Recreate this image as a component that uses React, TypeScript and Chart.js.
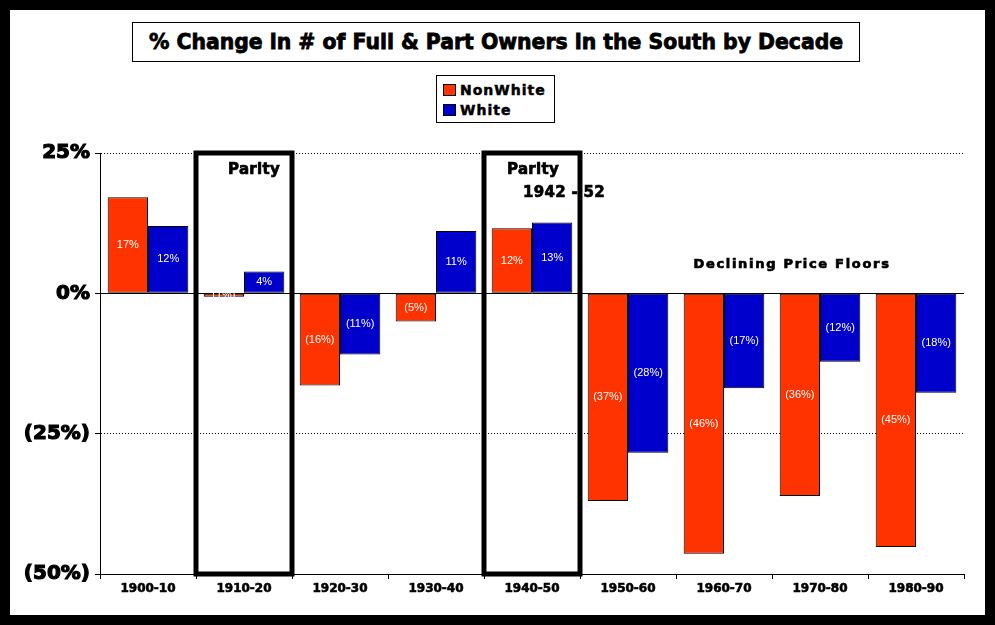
import React, { useEffect, useRef } from "react";
import { Chart, registerables } from "chart.js";

Chart.register(...registerables);

// ---- data ----
const chartTitle = "% Change in # of Full & Part Owners in the South by Decade";
const categories = ["1900-10", "1910-20", "1920-30", "1930-40", "1940-50", "1950-60", "1960-70", "1970-80", "1980-90"];
const seriesNames = ["NonWhite", "White"];
const nonWhite = [17.1, -0.6, -16.4, -5.0, 11.6, -37.0, -46.4, -36.1, -45.2];
const white = [12.0, 3.9, -10.9, 11.1, 12.6, -28.4, -16.9, -12.2, -17.7];
const seriesColors = ["#FF3300", "#0000CC"];
const yMin = -50;
const yMax = 25;
const yStep = 25;
const parityCategories = [1, 4];
const notes = [
  { text: "Parity", cat: 1, dx: 10, y: 21.9 },
  { text: "Parity", cat: 4, dx: 1, y: 21.9 },
  { text: "1942 - 52", cat: 4, dx: 32, y: 17.9 },
  { text: "Declining Price Floors", cat: 7, dx: -28, y: 5.2 },
];

const fmtPct = (v: number) => (v < 0 ? `(${Math.round(-v)}%)` : `${Math.round(v)}%`);

const bgPlugin = {
  id: "bgFrame",
  beforeDraw(chart: any) {
    const ctx = chart.ctx;
    ctx.save();
    ctx.fillStyle = "#000";
    ctx.fillRect(0, 0, chart.width, chart.height);
    ctx.fillStyle = "#fff";
    ctx.fillRect(10, 10, chart.width - 20, chart.height - 20);
    ctx.restore();
  },
};

const barLabelPlugin = {
  id: "barLabels",
  afterDatasetsDraw(chart: any) {
    const ctx = chart.ctx;
    ctx.save();
    ctx.font = "11px 'Liberation Sans', Arial, sans-serif";
    ctx.fillStyle = "#fff";
    ctx.textAlign = "center";
    ctx.textBaseline = "middle";
    chart.data.datasets.forEach((ds: any, di: number) => {
      const meta = chart.getDatasetMeta(di);
      meta.data.forEach((el: any, i: number) => {
        const v = ds.data[i] as number;
        ctx.fillText(fmtPct(v), el.x, (el.y + el.base) / 2);
      });
    });
    ctx.restore();
  },
};

const notesPlugin = {
  id: "notes",
  afterDraw(chart: any) {
    const ctx = chart.ctx;
    const xs = chart.scales.x;
    const ys = chart.scales.y;
    const catW = xs.getPixelForValue(1) - xs.getPixelForValue(0);
    ctx.save();
    ctx.fillStyle = "#000";
    ctx.strokeStyle = "#000";
    ctx.lineWidth = 0.7;
    ctx.textBaseline = "middle";
    ctx.textAlign = "center";
    notes.forEach((n) => {
      if (n.text === "Declining Price Floors") {
        ctx.font = "bold 13px 'DejaVu Sans', sans-serif";
        (ctx as any).letterSpacing = "1.7px";
      } else {
        ctx.font = "bold 15px 'DejaVu Sans', sans-serif";
        (ctx as any).letterSpacing = "0.3px";
      }
      const px = xs.getPixelForValue(n.cat) + n.dx;
      const py = ys.getPixelForValue(n.y);
      ctx.fillText(n.text, px, py);
      ctx.strokeText(n.text, px, py);
    });
    (ctx as any).letterSpacing = "0px";
    ctx.lineWidth = 5;
    parityCategories.forEach((c) => {
      const cx = xs.getPixelForValue(c);
      const top = ys.getPixelForValue(yMax);
      const bottom = ys.getPixelForValue(yMin);
      ctx.strokeRect(cx - catW / 2, top, catW, bottom - top);
    });
    ctx.restore();
  },
};

export default function App() {
  const ref = useRef<HTMLCanvasElement | null>(null);

  useEffect(() => {
    if (!ref.current) return;
    const chart = new Chart(ref.current, {
      type: "bar",
      data: {
        labels: categories,
        datasets: [
          {
            label: seriesNames[0],
            data: nonWhite,
            backgroundColor: seriesColors[0],
            borderColor: "#000",
            borderWidth: 1,
            borderSkipped: false,
            barPercentage: 1,
            categoryPercentage: 0.84,
          },
          {
            label: seriesNames[1],
            data: white,
            backgroundColor: seriesColors[1],
            borderColor: "#000",
            borderWidth: 1,
            borderSkipped: false,
            barPercentage: 1,
            categoryPercentage: 0.84,
          },
        ],
      },
      options: {
        responsive: false,
        maintainAspectRatio: false,
        animation: false,
        layout: { padding: { left: 10, right: 31, top: 153, bottom: 10 } },
        plugins: {
          legend: { display: false },
          title: { display: false },
          tooltip: { enabled: false },
        },
        scales: {
          x: {
            afterFit: (s: any) => {
              s.height = 41;
            },
            grid: {
              offset: true,
              drawOnChartArea: false,
              color: "#000",
              tickLength: 5,
            },
            border: { color: "#000", width: 1 },
            ticks: {
              color: "#000",
              padding: 3,
              maxRotation: 0,
              autoSkip: false,
              textStrokeColor: "#000",
              textStrokeWidth: 0.6,
              font: { family: "'DejaVu Sans', sans-serif", weight: "bold", size: 12 },
            },
          },
          y: {
            min: yMin,
            max: yMax,
            afterFit: (s: any) => {
              s.width = 90;
            },
            grid: {
              color: "#000",
              lineWidth: 1,
              tickLength: 5,
              tickColor: "#000",
            },
            border: {
              color: "#000",
              width: 1,
              dash: (ctx: any) => (ctx.tick && ctx.tick.value === 0 ? [] : [1, 2]),
            },
            ticks: {
              stepSize: yStep,
              color: "#000",
              padding: 5,
              textStrokeColor: "#000",
              textStrokeWidth: 1.2,
              font: { family: "'DejaVu Sans', sans-serif", weight: "bold", size: 20 },
              callback: (v: any) => fmtPct(Number(v)),
            },
          },
        },
      },
      plugins: [bgPlugin, barLabelPlugin, notesPlugin],
    } as any);
    return () => chart.destroy();
  }, []);

  return (
    <div style={{ position: "fixed", left: 0, top: 0, width: 995, height: 625, background: "#000" }}>
      <canvas ref={ref} width={995} height={625} style={{ position: "absolute", left: 0, top: 0, width: 995, height: 625 }} />
      <div
        style={{
          position: "absolute",
          left: 132,
          top: 22,
          width: 726,
          height: 38,
          border: "1px solid #000",
          background: "#fff",
          display: "flex",
          alignItems: "center",
          justifyContent: "center",
          fontFamily: "'DejaVu Sans', sans-serif",
          fontWeight: "bold",
          fontSize: 20.4,
          color: "#000",
          whiteSpace: "nowrap",
          WebkitTextStroke: "0.8px #000",
        }}
      >
        {chartTitle}
      </div>
      <div
        style={{
          position: "absolute",
          left: 436,
          top: 75,
          width: 117,
          height: 46,
          border: "1px solid #000",
          background: "#fff",
          fontFamily: "'DejaVu Sans', sans-serif",
          fontWeight: "bold",
          fontSize: 14,
          letterSpacing: "1px",
          color: "#000",
          WebkitTextStroke: "0.5px #000",
        }}
      >
        {seriesNames.map((name, i) => (
          <div key={name} style={{ position: "absolute", left: 6, top: 6 + i * 20, height: 16, display: "flex", alignItems: "center", whiteSpace: "nowrap" }}>
            <span
              style={{
                display: "inline-block",
                width: 13,
                height: 12,
                border: "1px solid #000",
                background: seriesColors[i],
                marginRight: 4,
                boxSizing: "border-box",
              }}
            />
            <span>{name}</span>
          </div>
        ))}
      </div>
    </div>
  );
}
